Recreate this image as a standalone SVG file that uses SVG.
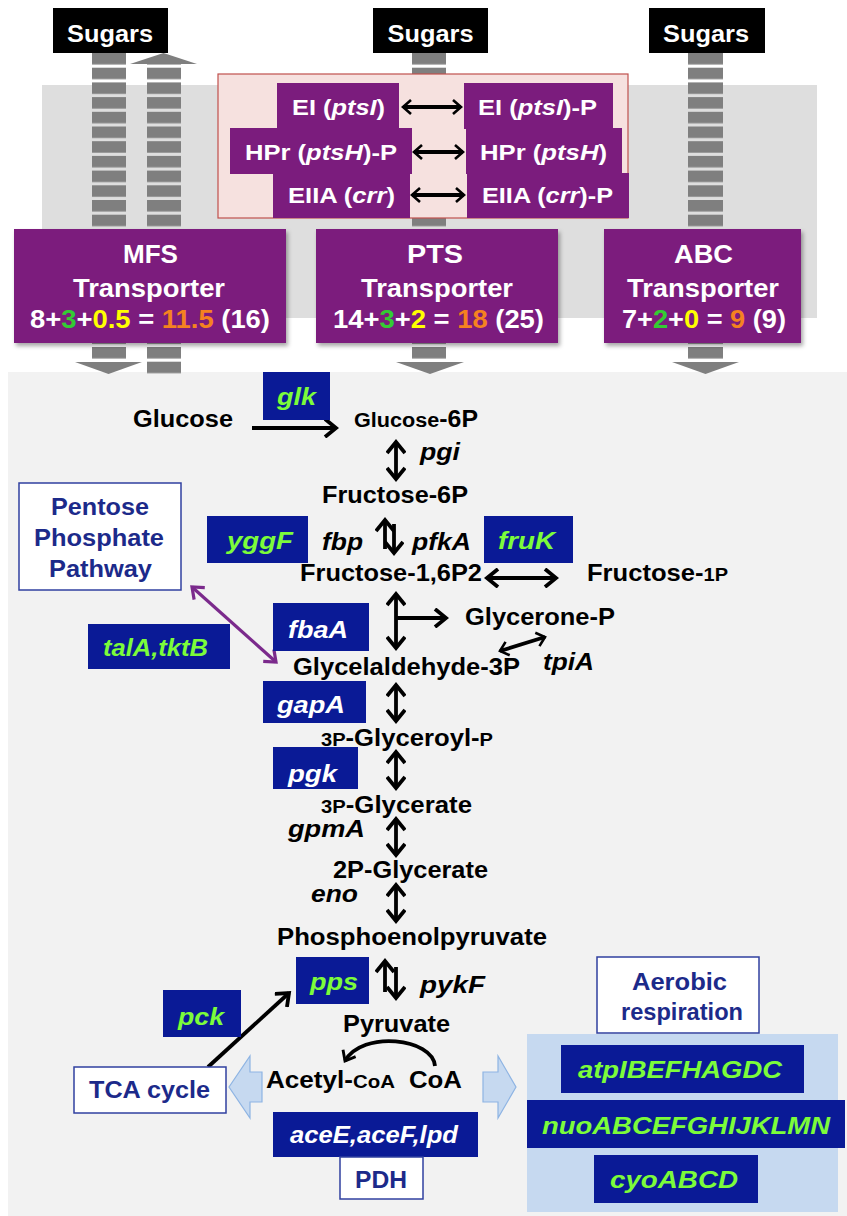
<svg xmlns="http://www.w3.org/2000/svg" width="847" height="1216" viewBox="0 0 847 1216">
<defs>
<style>
text{font-family:"Liberation Sans",Arial,sans-serif;font-weight:bold}
.w{fill:#fff}
.k{fill:#000}
.m{font-size:23px;fill:#000}
.i{font-style:italic}
.gt{fill:#7cfc3a;font-size:24px;font-style:italic}
.wt{fill:#fff;font-size:24px;font-style:italic}
.bb{fill:#0a1a96}
.ob{fill:#fff;stroke:#3040a0;stroke-width:1.5}
.ot{fill:#1c2a8a;font-size:23px}
.pp{fill:#7b1c7d}
.pt{fill:#fff;font-size:22px}
.gr{fill:#7f7f7f}
.st{fill:url(#stripe)}
.tr{font-size:26px;fill:#fff}
.ar{fill:none;stroke:#000;stroke-width:3.8}
.sm{font-size:18px}
</style>
<pattern id="stripe" patternUnits="userSpaceOnUse" x="0" y="53" width="847" height="14.7">
<rect x="0" y="0" width="847" height="11.5" fill="#7f7f7f"/>
</pattern>
<marker id="ah" viewBox="0 0 20 20" refX="16" refY="10" markerWidth="20" markerHeight="20" markerUnits="userSpaceOnUse" orient="auto-start-reverse">
<path d="M5,1 L16,10 L5,19" fill="none" stroke="#000" stroke-width="3.8"/>
</marker>
<marker id="ahs" viewBox="0 0 18 18" refX="14" refY="9" markerWidth="18" markerHeight="18" markerUnits="userSpaceOnUse" orient="auto-start-reverse">
<path d="M6,2 L14,9 L6,16" fill="none" stroke="#000" stroke-width="2.6"/>
</marker>
<marker id="ahp" viewBox="0 0 20 20" refX="16" refY="10" markerWidth="20" markerHeight="20" markerUnits="userSpaceOnUse" orient="auto-start-reverse">
<path d="M6,2 L16,10 L6,18" fill="none" stroke="#7b2a8c" stroke-width="3.2"/>
</marker>
<marker id="ahc" viewBox="0 0 20 20" refX="16" refY="10" markerWidth="18" markerHeight="18" markerUnits="userSpaceOnUse" orient="auto">
<path d="M6,2 L16,10 L6,18" fill="none" stroke="#000" stroke-width="3.2"/>
</marker>
<filter id="sh" x="-5%" y="-5%" width="115%" height="120%">
<feDropShadow dx="2" dy="3" stdDeviation="2" flood-color="#000" flood-opacity="0.35"/>
</filter>
</defs>

<!-- backgrounds -->
<rect x="0" y="0" width="847" height="1216" fill="#fff"/>
<rect id="membrane" x="42" y="85" width="775" height="233" fill="#dedede"/>
<rect id="cytoplasm" x="8" y="372" width="839" height="844" fill="#f2f2f2"/>

<!-- transport arrows -->
<g id="transport-arrows">
<rect class="st" x="92" y="53" width="34" height="176"/>
<rect class="st" x="147" y="64" width="34" height="165"/>
<polygon class="gr" points="130,64 197,64 163.5,53"/>
<rect class="st" x="412" y="53" width="34" height="176"/>
<rect class="st" x="688" y="53" width="35" height="176"/>
<rect class="st" x="92" y="343" width="34" height="17"/>
<polygon class="gr" points="75,362 142,362 108.5,374"/>
<rect class="st" x="147" y="343" width="34" height="31"/>
<rect class="st" x="412" y="343" width="34" height="17"/>
<polygon class="gr" points="396,362 464,362 430,374"/>
<rect class="st" x="688" y="343" width="35" height="17"/>
<polygon class="gr" points="672,362 739,362 705.5,374"/>
</g>

<g id="sugars1"><rect x="53" y="8" width="115" height="45" fill="#000"/><text class="w" x="67" y="42" font-size="23" textLength="86" lengthAdjust="spacingAndGlyphs">Sugars</text></g>
<g id="sugars2"><rect x="373" y="8" width="115" height="45" fill="#000"/><text class="w" x="387.5" y="42" font-size="23" textLength="86" lengthAdjust="spacingAndGlyphs">Sugars</text></g>
<g id="sugars3"><rect x="649" y="8" width="116" height="45" fill="#000"/><text class="w" x="663" y="42" font-size="23" textLength="86" lengthAdjust="spacingAndGlyphs">Sugars</text></g>

<!-- PTS phosphorelay -->
<g id="pts-relay">
<rect x="218" y="74" width="410" height="144" fill="#f6e1df" stroke="#c0504d" stroke-width="1.2"/>
</g>
<g id="ei"><rect class="pp" x="277" y="83" width="122" height="46"/><text class="pt" x="292" y="115" textLength="93" lengthAdjust="spacingAndGlyphs">EI (<tspan class="i">ptsI</tspan>)</text></g>
<g id="hpr-p"><rect class="pp" x="230" y="128" width="182" height="46"/><text class="pt" x="245" y="160" textLength="152" lengthAdjust="spacingAndGlyphs">HPr (<tspan class="i">ptsH</tspan>)-P</text></g>
<g id="eiia"><rect class="pp" x="273" y="173" width="137" height="45"/><text class="pt" x="288" y="203" textLength="107" lengthAdjust="spacingAndGlyphs">EIIA (<tspan class="i">crr</tspan>)</text></g>
<g id="ei-p"><rect class="pp" x="464" y="83" width="149" height="46"/><text class="pt" x="478" y="115" textLength="119" lengthAdjust="spacingAndGlyphs">EI (<tspan class="i">ptsI</tspan>)-P</text></g>
<g id="hpr"><rect class="pp" x="466" y="128" width="156" height="46"/><text class="pt" x="480" y="160" textLength="127" lengthAdjust="spacingAndGlyphs">HPr (<tspan class="i">ptsH</tspan>)</text></g>
<g id="eiia-p"><rect class="pp" x="467" y="173" width="162" height="45"/><text class="pt" x="482" y="203" textLength="131" lengthAdjust="spacingAndGlyphs">EIIA (<tspan class="i">crr</tspan>)-P</text></g>

<!-- transporters -->
<g id="mfs"><rect class="pp" x="14" y="229" width="272" height="114" filter="url(#sh)"/>
<text class="tr" x="123" y="263" textLength="55" lengthAdjust="spacingAndGlyphs">MFS</text>
<text class="tr" x="73" y="297" textLength="152" lengthAdjust="spacingAndGlyphs">Transporter</text>
<text class="tr" x="30" y="328" textLength="240" lengthAdjust="spacingAndGlyphs">8+<tspan fill="#33cc33">3</tspan>+<tspan fill="#ffff00">0.5</tspan> = <tspan fill="#f58220">11.5</tspan> (16)</text></g>
<g id="pts"><rect class="pp" x="316" y="229" width="242" height="114" filter="url(#sh)"/>
<text class="tr" x="407" y="263" textLength="56" lengthAdjust="spacingAndGlyphs">PTS</text>
<text class="tr" x="361" y="297" textLength="152" lengthAdjust="spacingAndGlyphs">Transporter</text>
<text class="tr" x="333" y="328" textLength="211" lengthAdjust="spacingAndGlyphs">14+<tspan fill="#33cc33">3</tspan>+<tspan fill="#ffff00">2</tspan> = <tspan fill="#f58220">18</tspan> (25)</text></g>
<g id="abc"><rect class="pp" x="604" y="229" width="197" height="114" filter="url(#sh)"/>
<text class="tr" x="674" y="263" textLength="59" lengthAdjust="spacingAndGlyphs">ABC</text>
<text class="tr" x="627" y="297" textLength="152" lengthAdjust="spacingAndGlyphs">Transporter</text>
<text class="tr" x="622" y="328" textLength="164" lengthAdjust="spacingAndGlyphs">7+<tspan fill="#33cc33">2</tspan>+<tspan fill="#ffff00">0</tspan> = <tspan fill="#f58220">9</tspan> (9)</text></g>

<!-- respiration panel -->
<rect id="resp-panel" x="527" y="1034" width="311" height="178" fill="#c6d9f0"/>

<!-- connectors -->
<g id="connectors">
<line class="ar" stroke-width="2.6" x1="403" y1="107" x2="461" y2="107" marker-start="url(#ahs)" marker-end="url(#ahs)"/>
<line class="ar" stroke-width="2.6" x1="414" y1="152" x2="463" y2="152" marker-start="url(#ahs)" marker-end="url(#ahs)"/>
<line class="ar" stroke-width="2.6" x1="412" y1="195" x2="464" y2="195" marker-start="url(#ahs)" marker-end="url(#ahs)"/>
<line class="ar" stroke-width="3.2" x1="252" y1="428" x2="336" y2="428" marker-end="url(#ah)"/>
<line class="ar" x1="396" y1="442" x2="396" y2="479" marker-start="url(#ah)" marker-end="url(#ah)"/>
<line class="ar" x1="385" y1="549" x2="385" y2="520" marker-end="url(#ah)"/>
<line class="ar" x1="394" y1="524" x2="394" y2="553" marker-end="url(#ah)"/>
<line class="ar" x1="487" y1="578" x2="556" y2="578" marker-start="url(#ah)" marker-end="url(#ah)"/>
<line class="ar" x1="396" y1="594" x2="396" y2="648" marker-start="url(#ah)" marker-end="url(#ah)"/>
<line class="ar" x1="396" y1="618" x2="446" y2="618" marker-end="url(#ah)"/>
<line class="ar" stroke-width="3.2" x1="500" y1="651" x2="545" y2="637" marker-start="url(#ahs)" marker-end="url(#ahs)"/>
<line fill="none" stroke="#7b2a8c" stroke-width="3.2" x1="192" y1="587" x2="276" y2="662" marker-start="url(#ahp)" marker-end="url(#ahp)"/>
<line class="ar" x1="396" y1="685" x2="396" y2="721" marker-start="url(#ah)" marker-end="url(#ah)"/>
<line class="ar" x1="396" y1="752" x2="396" y2="788" marker-start="url(#ah)" marker-end="url(#ah)"/>
<line class="ar" x1="396" y1="819" x2="396" y2="855" marker-start="url(#ah)" marker-end="url(#ah)"/>
<line class="ar" x1="396" y1="885" x2="396" y2="921" marker-start="url(#ah)" marker-end="url(#ah)"/>
<line class="ar" x1="385" y1="992" x2="385" y2="961" marker-end="url(#ah)"/>
<line class="ar" x1="396" y1="967" x2="396" y2="998" marker-end="url(#ah)"/>
<line class="ar" stroke-width="3.2" x1="208" y1="1067" x2="289" y2="993" marker-end="url(#ah)"/>
<path class="ar" stroke-width="3.2" d="M435,1066 C433,1038 362,1030 345,1061" marker-end="url(#ahc)"/>
<path d="M229,1087 L250,1056 L250,1072 L262,1072 L262,1102 L250,1102 L250,1118 Z" fill="#c6d9f0" stroke="#8eb4e3" stroke-width="1.2"/>
<path d="M516,1087 L498,1056 L498,1072 L483,1072 L483,1102 L498,1102 L498,1118 Z" fill="#c6d9f0" stroke="#8eb4e3" stroke-width="1.2"/>
</g>

<!-- metabolites -->
<g id="glucose"><text class="m" x="133" y="427" textLength="100" lengthAdjust="spacingAndGlyphs">Glucose</text></g>
<g id="glucose-6p"><text class="m" x="354" y="427" textLength="124" lengthAdjust="spacingAndGlyphs"><tspan font-size="20">Glucose</tspan>-6P</text></g>
<g id="fructose-6p"><text class="m" x="322" y="503" textLength="146" lengthAdjust="spacingAndGlyphs">Fructose-6P</text></g>
<g id="fructose-16p2"><text class="m" x="300" y="581" textLength="182" lengthAdjust="spacingAndGlyphs">Fructose-1,6P2</text></g>
<g id="fructose-1p"><text class="m" x="587" y="581" textLength="141" lengthAdjust="spacingAndGlyphs">Fructose-<tspan class="sm">1P</tspan></text></g>
<g id="glycerone-p"><text class="m" x="465" y="625" textLength="150" lengthAdjust="spacingAndGlyphs">Glycerone-P</text></g>
<g id="g3p"><text class="m" x="293" y="675" textLength="227" lengthAdjust="spacingAndGlyphs">Glycelaldehyde-3P</text></g>
<g id="glyceroyl"><text class="m" x="321" y="746" textLength="172" lengthAdjust="spacingAndGlyphs"><tspan class="sm">3P</tspan>-Glyceroyl-<tspan class="sm">P</tspan></text></g>
<g id="3pg"><text class="m" x="321" y="813" textLength="151" lengthAdjust="spacingAndGlyphs"><tspan class="sm">3P</tspan>-Glycerate</text></g>
<g id="2pg"><text class="m" x="333" y="878" textLength="155" lengthAdjust="spacingAndGlyphs">2P-Glycerate</text></g>
<g id="pep"><text class="m" x="277" y="945" textLength="270" lengthAdjust="spacingAndGlyphs">Phosphoenolpyruvate</text></g>
<g id="pyruvate"><text class="m" x="343" y="1032" textLength="107" lengthAdjust="spacingAndGlyphs">Pyruvate</text></g>
<g id="acetyl-coa"><text class="m" x="266" y="1088" textLength="129" lengthAdjust="spacingAndGlyphs">Acetyl-<tspan class="sm">CoA</tspan></text></g>
<g id="coa"><text class="m" x="409" y="1088" textLength="53" lengthAdjust="spacingAndGlyphs">CoA</text></g>

<!-- italic gene labels -->
<g id="pgi"><text class="m i" x="420" y="460" textLength="40" lengthAdjust="spacingAndGlyphs">pgi</text></g>
<g id="fbp"><text class="m i" x="322" y="550" textLength="41" lengthAdjust="spacingAndGlyphs">fbp</text></g>
<g id="pfka"><text class="m i" x="412" y="550" textLength="59" lengthAdjust="spacingAndGlyphs">pfkA</text></g>
<g id="tpia"><text class="m i" x="543" y="670" textLength="51" lengthAdjust="spacingAndGlyphs">tpiA</text></g>
<g id="gpma"><text class="m i" x="288" y="837" textLength="77" lengthAdjust="spacingAndGlyphs">gpmA</text></g>
<g id="eno"><text class="m i" x="311" y="902" textLength="47" lengthAdjust="spacingAndGlyphs">eno</text></g>
<g id="pykf"><text class="m i" x="420" y="993" textLength="65" lengthAdjust="spacingAndGlyphs">pykF</text></g>

<!-- blue gene boxes -->
<g id="glk"><rect class="bb" x="263" y="372" width="67" height="48"/><text class="gt" x="277" y="405" textLength="39" lengthAdjust="spacingAndGlyphs">glk</text></g>
<g id="yggf"><rect class="bb" x="207" y="516" width="101" height="47"/><text class="gt" x="227" y="549" textLength="66" lengthAdjust="spacingAndGlyphs">yggF</text></g>
<g id="fruk"><rect class="bb" x="484" y="516" width="89" height="47"/><text class="gt" x="498" y="549" textLength="57" lengthAdjust="spacingAndGlyphs">fruK</text></g>
<g id="fbaa"><rect class="bb" x="273" y="603" width="96" height="48"/><text class="wt" x="288" y="638" textLength="60" lengthAdjust="spacingAndGlyphs">fbaA</text></g>
<g id="talatktb"><rect class="bb" x="88" y="624" width="142" height="45"/><text class="gt" x="103" y="656" textLength="105" lengthAdjust="spacingAndGlyphs">talA,tktB</text></g>
<g id="gapa"><rect class="bb" x="263" y="681" width="103" height="42"/><text class="wt" x="277" y="713" textLength="68" lengthAdjust="spacingAndGlyphs">gapA</text></g>
<g id="pgk"><rect class="bb" x="273" y="747" width="85" height="42"/><text class="wt" x="288" y="782" textLength="49" lengthAdjust="spacingAndGlyphs">pgk</text></g>
<g id="pps"><rect class="bb" x="296" y="957" width="73" height="47"/><text class="gt" x="310" y="990" textLength="48" lengthAdjust="spacingAndGlyphs">pps</text></g>
<g id="pck"><rect class="bb" x="163" y="990" width="78" height="47"/><text class="gt" x="178" y="1025" textLength="46" lengthAdjust="spacingAndGlyphs">pck</text></g>
<g id="pdh-genes"><rect class="bb" x="273" y="1112" width="205" height="45"/><text class="wt" x="290" y="1143" textLength="168" lengthAdjust="spacingAndGlyphs">aceE,aceF,lpd</text></g>
<g id="atp"><rect class="bb" x="561" y="1045" width="243" height="48"/><text class="gt" x="578" y="1078" font-size="26" textLength="204" lengthAdjust="spacingAndGlyphs">atpIBEFHAGDC</text></g>
<g id="nuo"><rect class="bb" x="527" y="1100" width="318" height="48"/><text class="gt" x="542" y="1134" font-size="26" textLength="288" lengthAdjust="spacingAndGlyphs">nuoABCEFGHIJKLMN</text></g>
<g id="cyo"><rect class="bb" x="594" y="1155" width="164" height="48"/><text class="gt" x="610" y="1188" font-size="26" textLength="128" lengthAdjust="spacingAndGlyphs">cyoABCD</text></g>

<!-- outline boxes -->
<g id="ppp"><rect class="ob" x="19" y="483" width="162" height="107"/>
<text class="ot" x="51" y="515" textLength="98" lengthAdjust="spacingAndGlyphs">Pentose</text>
<text class="ot" x="34" y="546" textLength="130" lengthAdjust="spacingAndGlyphs">Phosphate</text>
<text class="ot" x="49" y="577" textLength="103" lengthAdjust="spacingAndGlyphs">Pathway</text></g>
<g id="tca"><rect class="ob" x="74" y="1067" width="152" height="46"/><text class="ot" x="89" y="1098" textLength="121" lengthAdjust="spacingAndGlyphs">TCA cycle</text></g>
<g id="pdh"><rect class="ob" x="340" y="1157" width="83" height="42"/><text class="ot" x="355" y="1188" textLength="52" lengthAdjust="spacingAndGlyphs">PDH</text></g>
<g id="aerobic"><rect class="ob" x="597" y="957" width="162" height="76"/>
<text class="ot" x="632" y="990" textLength="95" lengthAdjust="spacingAndGlyphs">Aerobic</text>
<text class="ot" x="621" y="1020" textLength="122" lengthAdjust="spacingAndGlyphs">respiration</text></g>
</svg>
